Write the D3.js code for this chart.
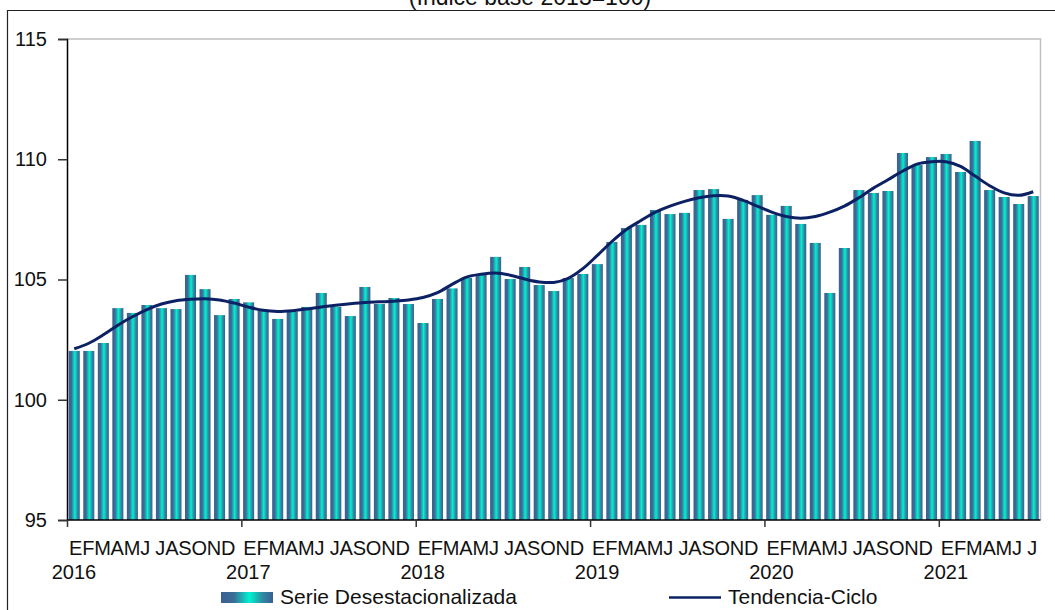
<!DOCTYPE html>
<html>
<head>
<meta charset="utf-8">
<script src="https://cdn.jsdelivr.net/npm/d3@7"></script>
<style>
  html, body { margin: 0; padding: 0; background: #fff; }
  svg { display: block; font-family: "Liberation Sans", Arial, sans-serif; }
</style>
</head>
<body>
<svg id="chart" width="1055" height="610"></svg>
<script>
const years = ["2016", "2017", "2018", "2019", "2020", "2021"];
const monthLetters = ["E","F","M","A","M","J","J","A","S","O","N","D"];
const yTicks = [95, 100, 105, 110, 115];

const serie = [
  102.03, 102.03, 102.36, 103.81, 103.61, 103.94, 103.81, 103.77, 105.19, 104.60, 103.52, 104.19,
  104.05, 103.73, 103.36, 103.66, 103.86, 104.44, 103.86, 103.48, 104.69, 103.98, 104.23, 103.98,
  103.19, 104.19, 104.63, 105.06, 105.23, 105.94, 105.02, 105.52, 104.77, 104.52, 105.06, 105.23,
  105.64, 106.56, 107.14, 107.27, 107.89, 107.72, 107.77, 108.72, 108.76, 107.52, 108.31, 108.51,
  107.69, 108.06, 107.31, 106.52, 104.44, 106.31, 108.72, 108.60, 108.68, 110.26, 109.76, 110.09,
  110.22, 109.47, 110.76, 108.72, 108.43, 108.14, 108.47
];
const tendencia = [
  102.12, 102.35, 102.70, 103.10, 103.45, 103.75, 103.98, 104.12, 104.18, 104.20, 104.15, 104.02,
  103.85, 103.72, 103.67, 103.70, 103.77, 103.86, 103.93, 103.99, 104.04, 104.07, 104.10, 104.15,
  104.25, 104.45, 104.80, 105.10, 105.22, 105.27, 105.18, 105.02, 104.90, 104.88, 105.05, 105.45,
  106.00, 106.58, 107.08, 107.45, 107.80, 108.05, 108.25, 108.40, 108.48, 108.47, 108.30, 108.05,
  107.80, 107.62, 107.55, 107.62, 107.80, 108.05, 108.40, 108.80, 109.15, 109.50, 109.80, 109.90,
  109.90, 109.70, 109.30, 108.90, 108.60, 108.50, 108.65
];

(function () {
const svg = d3.select("#chart");
const W = 1055, H = 610;
const pLeft = 67, pRight = 1040.5, pTop = 39, pBottom = 520;
const FS = 20;

const months = serie.map((v, i) => ({ i, v, t: tendencia[i], letter: monthLetters[i % 12] }));

const x = d3.scaleBand().domain(months.map(d => d.i)).range([pLeft, pRight]).paddingInner(0.24).paddingOuter(0.12);
const xl = d3.scaleLinear().domain([0, serie.length]).range([pLeft, pRight]);
const y = d3.scaleLinear().domain([95, 115]).range([pBottom, pTop]);

const defs = svg.append("defs");
const grad = defs.append("linearGradient").attr("id", "barGrad").attr("x1", "0").attr("x2", "1").attr("y1", "0").attr("y2", "0");
[[0, "#3a5f92"], [0.25, "#3a6d96"], [0.55, "#00f2d2"], [0.8, "#2f8aa0"], [1, "#3a5f92"]].forEach(([o, c]) =>
  grad.append("stop").attr("offset", o).attr("stop-color", c));

svg.append("path").attr("d", `M7.5,${H} V10.5 H${W}`).attr("fill", "none").attr("stroke", "#222").attr("stroke-width", 1.2);

svg.append("text").attr("x", 530).attr("y", 5).attr("text-anchor", "middle").attr("font-size", 23).attr("fill", "#111")
  .text("(Índice base 2013=100)");

svg.append("path").attr("d", `M${pLeft},${pTop} H${pRight} V${pBottom}`).attr("fill", "none").attr("stroke", "#c0c0c0").attr("stroke-width", 1.5);

svg.append("g").selectAll("rect").data(months).join("rect")
  .attr("x", d => x(d.i)).attr("width", x.bandwidth())
  .attr("y", d => y(d.v)).attr("height", d => y(95) - y(d.v))
  .attr("fill", "url(#barGrad)");

const line = d3.line().x(d => x(d.i) + x.bandwidth() / 2).y(d => y(d.t)).curve(d3.curveCatmullRom.alpha(0.5));
svg.append("path").datum(months).attr("d", line).attr("fill", "none").attr("stroke", "#0b2163").attr("stroke-width", 3);

const yAxis = d3.axisLeft(y).tickValues(yTicks).tickSize(9).tickPadding(11).tickFormat(d3.format("d"));
const gy = svg.append("g").attr("transform", `translate(${pLeft},0)`).call(yAxis);
gy.select(".domain").attr("stroke", "#000").attr("stroke-width", 1.5);
gy.selectAll(".tick line").attr("stroke", "#333").attr("stroke-width", 1.5);
gy.selectAll(".tick text").attr("font-size", FS).attr("fill", "#111").attr("font-family", "Liberation Sans, Arial, sans-serif");

const yearTickVals = years.map((yv, k) => k * 12);
const xAxis = d3.axisBottom(xl).tickValues(yearTickVals).tickSize(7).tickFormat("");
const gx = svg.append("g").attr("transform", `translate(0,${pBottom})`).call(xAxis);
gx.select(".domain").attr("stroke", "#000").attr("stroke-width", 1.5).attr("d", `M${pLeft},0H${pRight}`);
gx.selectAll(".tick line").attr("stroke", "#333").attr("stroke-width", 1.5);

const yearGroups = years.map((yr, k) => {
  const ms = months.filter(d => Math.floor(d.i / 12) === k).map(d => d.letter);
  const s = ms.slice(0, 6).join("") + (ms.length > 6 ? " " + ms.slice(6).join("") : "");
  return { yr, k, s };
});
svg.append("g").selectAll("text").data(yearGroups).join("text")
  .attr("x", d => xl(d.k * 12) + 2).attr("y", 555)
  .attr("font-size", FS).attr("fill", "#111").attr("letter-spacing", -0.2)
  .text(d => d.s);

svg.append("g").selectAll("text").data(yearGroups).join("text")
  .attr("x", d => xl(d.k * 12) + 7).attr("y", 579)
  .attr("text-anchor", "middle").attr("font-size", FS).attr("fill", "#111")
  .text(d => d.yr);

const lg = svg.append("g");
lg.append("rect").attr("x", 221).attr("y", 592).attr("width", 52).attr("height", 11).attr("fill", "url(#barGrad)");
lg.append("text").attr("x", 280).attr("y", 604).attr("font-size", 21).attr("fill", "#111").text("Serie Desestacionalizada");
lg.append("line").attr("x1", 669).attr("x2", 721).attr("y1", 597.5).attr("y2", 597.5).attr("stroke", "#0b2163").attr("stroke-width", 2.5);
lg.append("text").attr("x", 728).attr("y", 604).attr("font-size", 21).attr("fill", "#111").text("Tendencia-Ciclo");
})();
</script>
</body>
</html>
